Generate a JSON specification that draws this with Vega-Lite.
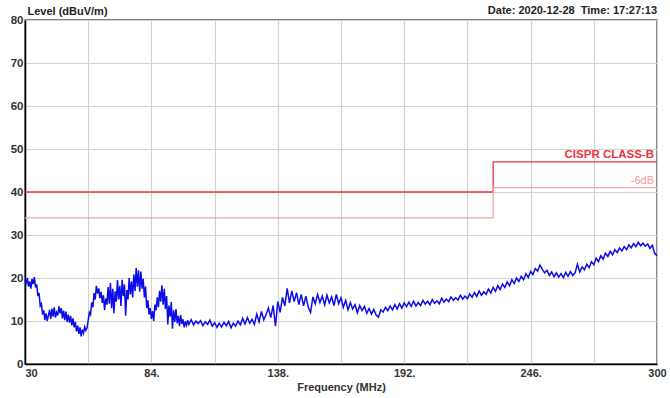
{
  "$schema": "https://vega.github.io/schema/vega-lite/v6.json",
  "width": 632,
  "height": 344,
  "autosize": "none",
  "padding": {"left": 25, "top": 20, "right": 13, "bottom": 34},
  "background": "white",
  "title": {"text": "Date: 2020-12-28\u00a0 Time: 17:27:13", "anchor": "end", "frame": "group", "font": "Liberation Sans", "fontSize": 11, "fontWeight": "bold", "color": "#222222", "offset": -11},
  "config": {
    "view": {"stroke": "#555555", "strokeWidth": 1.5},
    "font": "Liberation Sans"
  },
  "datasets": {
    "trace": [
      {"f":30,"v":19.5},{"f":30.5,"v":18.8},{"f":31,"v":20},{"f":31.5,"v":18},{"f":32,"v":19.2},{"f":32.5,"v":17.5},{"f":33,"v":19.8},{"f":33.5,"v":18.6},{"f":34,"v":20.2},{"f":34.5,"v":17.8},
      {"f":35,"v":18.5},{"f":35.5,"v":15.8},{"f":36,"v":16.5},{"f":36.5,"v":13.5},{"f":37,"v":14},{"f":37.5,"v":11.5},{"f":38,"v":12.5},{"f":38.5,"v":10.2},{"f":39,"v":11.8},{"f":39.5,"v":10},
      {"f":40,"v":11.3},{"f":40.5,"v":12.6},{"f":41,"v":10.5},{"f":41.5,"v":12.9},{"f":42,"v":11},{"f":42.5,"v":13.2},{"f":43,"v":10.8},{"f":43.5,"v":12},{"f":44,"v":11.3},{"f":44.5,"v":13.4},
      {"f":45,"v":11.8},{"f":45.5,"v":13},{"f":46,"v":10.6},{"f":46.5,"v":12.4},{"f":47,"v":10.2},{"f":47.5,"v":12.2},{"f":48,"v":9.8},{"f":48.5,"v":11.5},{"f":49,"v":9.6},{"f":49.5,"v":11.2},
      {"f":50,"v":9},{"f":50.5,"v":10.6},{"f":51,"v":8.5},{"f":51.5,"v":9.8},{"f":52,"v":7.6},{"f":52.5,"v":8.9},{"f":53,"v":7},{"f":53.5,"v":8.5},{"f":54,"v":6.4},{"f":54.5,"v":8},
      {"f":55,"v":7.2},{"f":55.5,"v":8.6},{"f":56,"v":7.8},{"f":56.5,"v":8.4},{"f":57,"v":10.2},{"f":57.5,"v":12},{"f":58,"v":11.5},{"f":58.5,"v":14.3},{"f":59,"v":13.2},{"f":59.5,"v":16.5},
      {"f":60,"v":15},{"f":60.5,"v":18.2},{"f":61,"v":16.4},{"f":61.5,"v":17.6},{"f":62,"v":15.3},{"f":62.5,"v":16.8},{"f":63,"v":14.2},{"f":63.5,"v":16},{"f":64,"v":12.5},{"f":64.5,"v":15.2},
      {"f":65,"v":13.8},{"f":65.5,"v":17.9},{"f":66,"v":14},{"f":66.5,"v":18.8},{"f":67,"v":13},{"f":67.5,"v":17.5},{"f":68,"v":11.8},{"f":68.5,"v":16.9},{"f":69,"v":14.5},{"f":69.5,"v":19.5},
      {"f":70,"v":15},{"f":70.5,"v":18.2},{"f":71,"v":13.5},{"f":71.5,"v":19.6},{"f":72,"v":15.8},{"f":72.5,"v":18.5},{"f":73,"v":11.2},{"f":73.5,"v":17.2},{"f":74,"v":15},{"f":74.5,"v":20},
      {"f":75,"v":16.2},{"f":75.5,"v":19.2},{"f":76,"v":15.5},{"f":76.5,"v":20.8},{"f":77,"v":17},{"f":77.5,"v":22.3},{"f":78,"v":18},{"f":78.5,"v":21.8},{"f":79,"v":16.8},{"f":79.5,"v":21.5},
      {"f":80,"v":17.5},{"f":80.5,"v":19.8},{"f":81,"v":15.5},{"f":81.5,"v":18},{"f":82,"v":13},{"f":82.5,"v":14.8},{"f":83,"v":11.5},{"f":83.5,"v":13},{"f":84,"v":10.5},{"f":84.5,"v":12.3},
      {"f":85,"v":10},{"f":85.5,"v":13.8},{"f":86,"v":12.5},{"f":86.5,"v":15.5},{"f":87,"v":13.2},{"f":87.5,"v":17},{"f":88,"v":14.5},{"f":88.5,"v":18.3},{"f":89,"v":13.8},{"f":89.5,"v":17.5},
      {"f":90,"v":12.8},{"f":90.5,"v":15.8},{"f":91,"v":9.2},{"f":91.5,"v":13.6},{"f":92,"v":11},{"f":92.5,"v":14.4},{"f":93,"v":8.2},{"f":93.5,"v":12.5},{"f":94,"v":9.8},{"f":94.5,"v":12.8},
      {"f":95,"v":9.5},{"f":95.5,"v":11.2},{"f":96,"v":8.8},{"f":96.5,"v":11.4},{"f":97,"v":9.3},{"f":97.5,"v":10.4},{"f":98,"v":8.5},{"f":98.5,"v":9.9},{"f":99,"v":9},{"f":99.5,"v":10.2},
      {"f":100,"v":9.2},{"f":101,"v":10.3},{"f":102,"v":9.1},{"f":103,"v":10},{"f":104,"v":9.4},{"f":105,"v":10.1},{"f":106,"v":8.9},{"f":107,"v":9.8},{"f":108,"v":9.2},{"f":109,"v":10.2},
      {"f":110,"v":8.8},{"f":111,"v":9.6},{"f":112,"v":8.5},{"f":113,"v":9.5},{"f":114,"v":8.6},{"f":115,"v":9.7},{"f":116,"v":8.9},{"f":117,"v":9.9},{"f":118,"v":8.4},{"f":119,"v":9.5},
      {"f":120,"v":8.8},{"f":121,"v":10},{"f":122,"v":9.1},{"f":123,"v":10.6},{"f":124,"v":9.3},{"f":125,"v":10.8},{"f":126,"v":9.5},{"f":127,"v":10.4},{"f":128,"v":9.2},{"f":129,"v":11.6},
      {"f":130,"v":9.8},{"f":131,"v":12.2},{"f":132,"v":10.3},{"f":133,"v":11.5},{"f":134,"v":13},{"f":135,"v":10.8},{"f":136,"v":13.6},{"f":137,"v":8.8},{"f":138,"v":14.5},{"f":139,"v":12},
      {"f":140,"v":15.5},{"f":141,"v":13.5},{"f":142,"v":17.6},{"f":143,"v":14.2},{"f":144,"v":17},{"f":145,"v":14.5},{"f":146,"v":16.6},{"f":147,"v":13.8},{"f":148,"v":16.2},{"f":149,"v":13.5},
      {"f":150,"v":15.8},{"f":151,"v":13.2},{"f":152,"v":12},{"f":153,"v":15.6},{"f":154,"v":14},{"f":155,"v":16.2},{"f":156,"v":14.3},{"f":157,"v":15.8},{"f":158,"v":13.8},{"f":159,"v":16},
      {"f":160,"v":14.2},{"f":161,"v":15.6},{"f":162,"v":13.6},{"f":163,"v":16.2},{"f":164,"v":14},{"f":165,"v":15.4},{"f":166,"v":13.2},{"f":167,"v":14.8},{"f":168,"v":12.6},{"f":169,"v":14.3},
      {"f":170,"v":12.8},{"f":171,"v":13.8},{"f":172,"v":11.9},{"f":173,"v":13.6},{"f":174,"v":12.4},{"f":175,"v":13.4},{"f":176,"v":11.8},{"f":177,"v":12.9},{"f":178,"v":11.6},{"f":179,"v":12.7},
      {"f":180,"v":11.4},{"f":181,"v":10.9},{"f":182,"v":12.6},{"f":183,"v":12.1},{"f":184,"v":13.2},{"f":185,"v":12.4},{"f":186,"v":13.5},{"f":187,"v":12.6},{"f":188,"v":13.8},{"f":189,"v":12.8},
      {"f":190,"v":14},{"f":191,"v":13},{"f":192,"v":14.2},{"f":193,"v":13.3},{"f":194,"v":14.4},{"f":195,"v":13.4},{"f":196,"v":14.6},{"f":197,"v":13.5},{"f":198,"v":14.3},{"f":199,"v":13.6},
      {"f":200,"v":14.8},{"f":201,"v":13.9},{"f":202,"v":14.6},{"f":203,"v":13.8},{"f":204,"v":15},{"f":205,"v":14.1},{"f":206,"v":14.7},{"f":207,"v":14},{"f":208,"v":15.3},{"f":209,"v":14.4},
      {"f":210,"v":15.1},{"f":211,"v":14.5},{"f":212,"v":15.6},{"f":213,"v":14.8},{"f":214,"v":15.4},{"f":215,"v":14.9},{"f":216,"v":16},{"f":217,"v":15.1},{"f":218,"v":15.8},{"f":219,"v":15.2},
      {"f":220,"v":16.3},{"f":221,"v":15.5},{"f":222,"v":16.6},{"f":223,"v":15.7},{"f":224,"v":17},{"f":225,"v":16},{"f":226,"v":16.8},{"f":227,"v":16.2},{"f":228,"v":17.4},{"f":229,"v":16.5},
      {"f":230,"v":17.8},{"f":231,"v":16.9},{"f":232,"v":18.2},{"f":233,"v":17.3},{"f":234,"v":18.6},{"f":235,"v":17.8},{"f":236,"v":19.1},{"f":237,"v":18.2},{"f":238,"v":19.6},{"f":239,"v":18.7},
      {"f":240,"v":20},{"f":241,"v":19.2},{"f":242,"v":20.4},{"f":243,"v":19.6},{"f":244,"v":21},{"f":245,"v":20.1},{"f":246,"v":21.5},{"f":247,"v":20.8},{"f":248,"v":22.2},{"f":249,"v":21.6},
      {"f":250,"v":23},{"f":251,"v":22},{"f":252,"v":21.2},{"f":253,"v":21.8},{"f":254,"v":20.6},{"f":255,"v":21.4},{"f":256,"v":20.3},{"f":257,"v":21.2},{"f":258,"v":20.2},{"f":259,"v":21},
      {"f":260,"v":20.1},{"f":261,"v":21.3},{"f":262,"v":20.4},{"f":263,"v":21.5},{"f":264,"v":20.6},{"f":265,"v":21.2},{"f":266,"v":23.2},{"f":267,"v":21.4},{"f":268,"v":22.6},{"f":269,"v":21.9},
      {"f":270,"v":23.2},{"f":271,"v":22.4},{"f":272,"v":23.8},{"f":273,"v":23.1},{"f":274,"v":24.6},{"f":275,"v":23.8},{"f":276,"v":25.2},{"f":277,"v":24.4},{"f":278,"v":25.8},{"f":279,"v":25},
      {"f":280,"v":26.2},{"f":281,"v":25.4},{"f":282,"v":26.6},{"f":283,"v":25.9},{"f":284,"v":27},{"f":285,"v":26.3},{"f":286,"v":27.3},{"f":287,"v":26.6},{"f":288,"v":27.7},{"f":289,"v":27},
      {"f":290,"v":28},{"f":291,"v":27.3},{"f":292,"v":28.3},{"f":293,"v":27.5},{"f":294,"v":28.1},{"f":295,"v":27.4},{"f":296,"v":27.9},{"f":297,"v":26.9},{"f":298,"v":27.6},{"f":299,"v":25.8},
      {"f":300,"v":25.1}
    ],
    "limits": [
      {"f":30,"v":40,"s":"limit"},{"f":230,"v":47,"s":"limit"},{"f":300,"v":47,"s":"limit"},
      {"f":30,"v":34,"s":"minus6"},{"f":230,"v":41,"s":"minus6"},{"f":300,"v":41,"s":"minus6"}
    ]
  },
  "layer": [
    {
      "data": {"name": "limits"},
      "mark": {"type": "line", "interpolate": "step-after", "strokeWidth": 1.3},
      "encoding": {
        "x": {"field": "f", "type": "quantitative", "scale": {"domain": [30, 300], "nice": false, "zero": false},
          "axis": {"values": [30,57,84,111,138,165,192,219,246,273,300],
            "labelExpr": "datum.value == 30 || datum.value == 300 ? format(datum.value, 'd') : ((datum.value - 30) % 54 == 0 ? format(datum.value, 'd') + '.' : '')",
            "labelAlign": {"condition": {"test": "datum.value == 30", "value": "left"}, "value": "center"},
            "labelFlush": false, "labelOverlap": false, "labelBound": false,
            "labelFont": "Liberation Sans", "labelFontSize": 11, "labelFontWeight": "bold", "labelColor": "#333333", "labelPadding": 3,
            "ticks": false, "grid": true, "gridColor": "#d2d2d2", "gridWidth": 1.2,
            "domainColor": "#000000", "domainWidth": 1.5,
            "title": "Frequency (MHz)", "titleFont": "Liberation Sans", "titleFontSize": 11, "titleFontWeight": "bold", "titleColor": "#333333", "titlePadding": 3}},
        "y": {"field": "v", "type": "quantitative", "scale": {"domain": [0, 80], "nice": false},
          "axis": {"values": [0,10,20,30,40,50,60,70,80],
            "labelFont": "Liberation Sans", "labelFontSize": 11.5, "labelFontWeight": "bold", "labelColor": "#333333", "labelPadding": 2,
            "ticks": false, "grid": true, "gridColor": "#d2d2d2", "gridWidth": 1.2,
            "domainColor": "#000000", "domainWidth": 1.5,
            "title": "Level (dBuV/m)", "titleAngle": 0, "titleAlign": "left", "titleBaseline": "middle", "titleX": 2, "titleY": -9,
            "titleFont": "Liberation Sans", "titleFontSize": 11, "titleFontWeight": "bold", "titleColor": "#222222"}},
        "color": {"field": "s", "type": "nominal", "scale": {"domain": ["limit", "minus6"], "range": ["#e8353b", "#f4a6a6"]}, "legend": null}
      }
    },
    {
      "data": {"name": "trace"},
      "mark": {"type": "line", "color": "#0c0ce8", "strokeWidth": 1.5},
      "encoding": {
        "x": {"field": "f", "type": "quantitative"},
        "y": {"field": "v", "type": "quantitative"}
      }
    },
    {
      "data": {"values": [{"f": 300, "v": 47, "t": "CISPR CLASS-B"}]},
      "mark": {"type": "text", "align": "right", "baseline": "bottom", "dx": -3, "dy": -2, "font": "Liberation Sans", "fontSize": 11.5, "fontWeight": "bold", "color": "#e8353b"},
      "encoding": {
        "x": {"field": "f", "type": "quantitative"},
        "y": {"field": "v", "type": "quantitative"},
        "text": {"field": "t"}
      }
    },
    {
      "data": {"values": [{"f": 300, "v": 41, "t": "-6dB"}]},
      "mark": {"type": "text", "align": "right", "baseline": "bottom", "dx": -3, "dy": -2, "font": "Liberation Sans", "fontSize": 11, "color": "#f09a9a"},
      "encoding": {
        "x": {"field": "f", "type": "quantitative"},
        "y": {"field": "v", "type": "quantitative"},
        "text": {"field": "t"}
      }
    }
  ]
}
